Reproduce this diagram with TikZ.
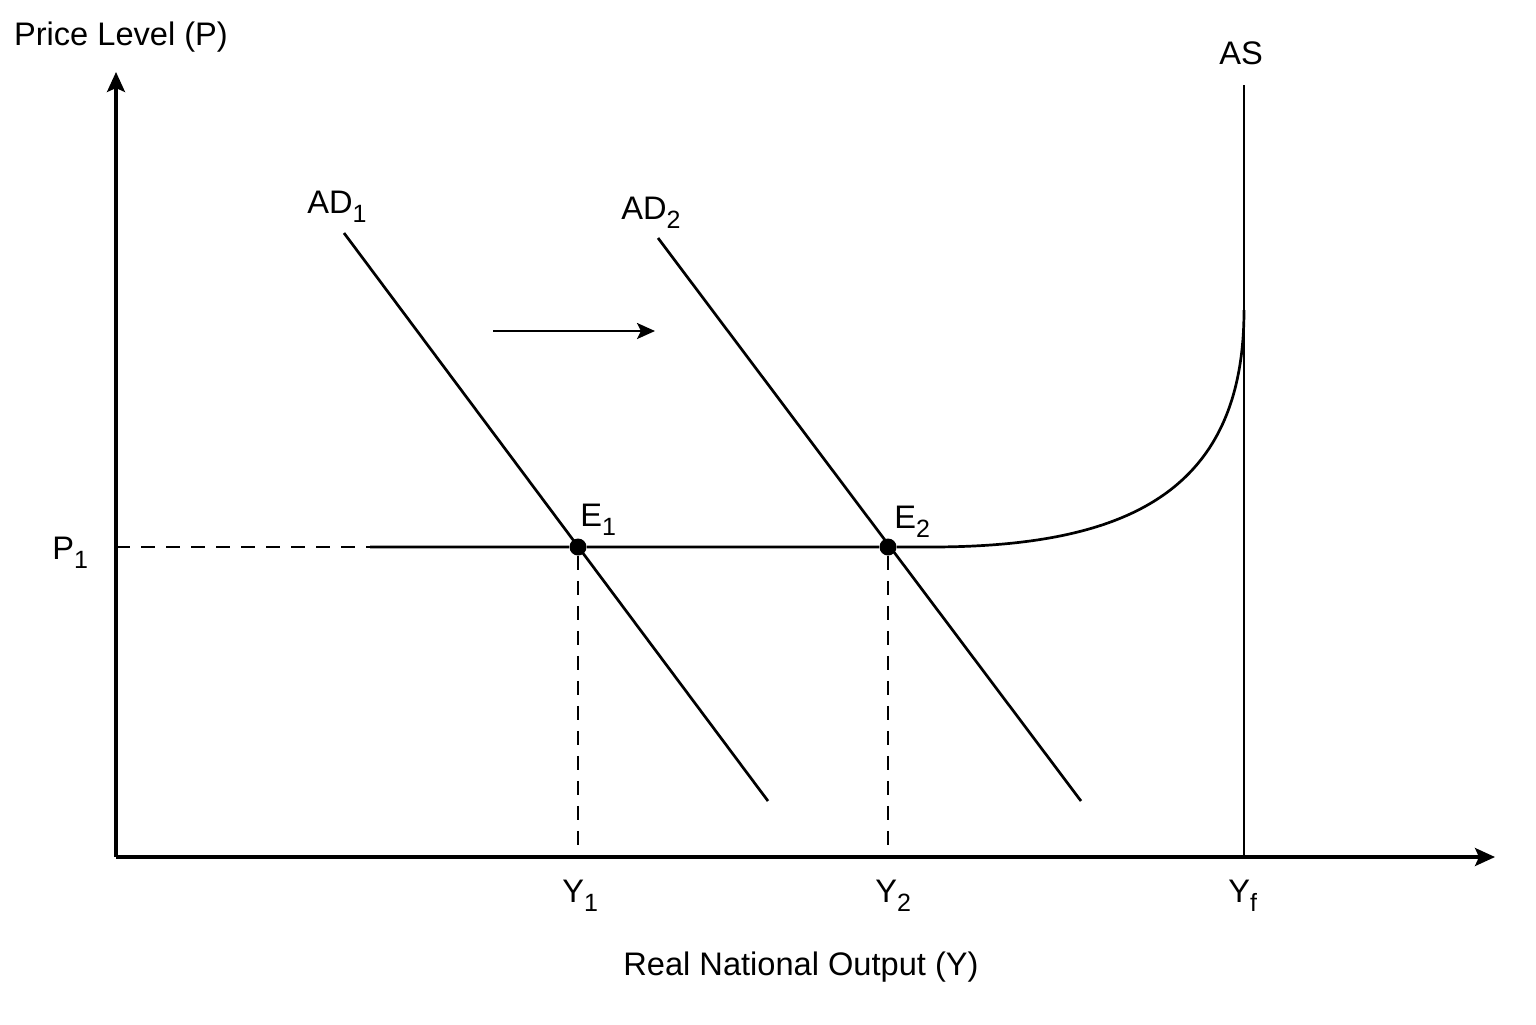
\documentclass[tikz,border=0pt]{standalone}
\usepackage{fontspec}
\setmainfont{Liberation Sans}
\usetikzlibrary{arrows.meta}
\newcommand{\sbs}[1]{\raisebox{-0.28em}{\fontsize{12.5}{14}\selectfont #1}}
\begin{document}
\begin{tikzpicture}[x=0.5pt,y=-0.5pt,
  lbl/.style={font=\fontsize{16.3}{19}\selectfont, inner sep=0pt},
  axis/.style={line width=1.6pt, -{Stealth[length=10pt,width=9pt,inset=2pt]}},
  curve/.style={line width=1.35pt},
  guide/.style={line width=1.15pt, dash pattern=on 7pt off 5.5pt},
  dot/.style={circle, fill=black, inner sep=0pt, minimum size=8.5pt}]
\useasboundingbox (0,0) rectangle (1536,1024);
% axes
\coordinate (O) at (116,857);
\coordinate (ytop) at (116,72);
\coordinate (xend) at (1495,857);
\draw[axis] (O) -- (ytop);
\draw[axis] (O) -- (xend);
% key points
\node[dot] (E1) at (578,547) {};
\node[dot] (E2) at (888,547) {};
\coordinate (P1c) at (116,547);
\coordinate (dashend) at (370,547);
\coordinate (bend) at (930,547);
\coordinate (ASk) at (1244,310);
\coordinate (AStop) at (1244,85);
\coordinate (ASbot) at (1244,857);
\coordinate (Y1c) at (578,857);
\coordinate (Y2c) at (888,857);
% guides
\draw[guide] (P1c) -- (dashend);
\draw[guide] (E1) -- (Y1c);
\draw[guide] (E2) -- (Y2c);
% AS
\draw[curve] (dashend) -- (E1) -- (E2) -- (bend) .. controls (1130,547) and (1244,490) .. (ASk);
\draw[curve] (AStop) -- (ASbot);
% AD curves
\coordinate (AD1a) at (344,233);
\coordinate (AD1b) at (768,801);
\coordinate (AD2a) at (658,238);
\coordinate (AD2b) at (1081,801);
\draw[curve] (AD1a) -- (AD1b);
\draw[curve] (AD2a) -- (AD2b);
% shift arrow
\coordinate (sa) at (493,331);
\coordinate (sb) at (655,331);
\draw[curve, -{Stealth[length=9pt,width=8pt,inset=2pt]}] (sa) -- (sb);
% labels
\node[lbl] (lP) at (121,37) {Price Level (P)};
\node[lbl] (lAS) at (1241,53) {AS};
\node[lbl, anchor=base west] (lAD1) at (307,213) {AD\sbs{1}};
\node[lbl, anchor=base west] (lAD2) at (621,219) {AD\sbs{2}};
\node[lbl, anchor=base west] (lE1) at (580,526) {E\sbs{1}};
\node[lbl, anchor=base west] (lE2) at (894,528) {E\sbs{2}};
\node[lbl, anchor=base west] (lP1) at (52,559) {P\sbs{1}};
\node[lbl, anchor=base west] (lY1) at (562,902) {Y\sbs{1}};
\node[lbl, anchor=base west] (lY2) at (875,902) {Y\sbs{2}};
\node[lbl, anchor=base west] (lYf) at (1228,902) {Y\sbs{f}};
\node[lbl] (lX) at (801,967) {Real National Output (Y)};
\end{tikzpicture}
\end{document}
